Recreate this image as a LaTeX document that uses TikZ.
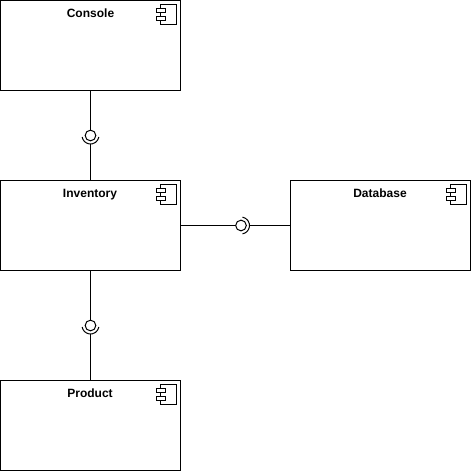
\documentclass[tikz,border=0pt]{standalone}
\usepackage{fontspec}
\setmainfont{Liberation Sans}

\tikzset{
	compbox/.style={draw,line width=0.75pt,minimum width=135pt,minimum height=67.5pt,inner sep=0pt,outer sep=0pt},
	comptext/.style={anchor=base,inner sep=0.75pt,font=\bfseries\fontsize{9pt}{11pt}\selectfont},
	ball/.style={draw,circle,line width=0.75pt,minimum size=8pt,inner sep=0pt,outer sep=0pt},
}

\newcommand{\compicon}[1]{
	\draw [line width=0.75pt] (#1)++(-10.5,-16.5) rectangle ++(16,20);
	\draw [line width=0.75pt,fill=white] (#1)++(-15,-12.5) rectangle ++(9.5,4.5);
	\draw [line width=0.75pt,fill=white] (#1)++(-15,-4.5) rectangle ++(9.5,4.5);
}

\begin{document}
\begin{tikzpicture}[x=0.75pt,y=0.75pt,yscale=-1,xscale=1]
	\useasboundingbox (0,0) rectangle (471,471);
	% components
	\node [compbox] (console) at (90.5,45.5) {};
	\node [compbox] (inventory) at (90.5,225.5) {};
	\node [compbox] (database) at (380.5,225.5) {};
	\node [compbox] (product) at (90.5,425.5) {};
	\node [comptext] (consoleText) at (90.5,17) {Console};
	\node [comptext] (inventoryText) at (90,197) {Inventory};
	\node [comptext] (databaseText) at (380,197) {Database};
	\node [comptext] (productText) at (90,397) {Product};
	% icons
	\coordinate (consoleIcon) at (171,20.5);
	\coordinate (inventoryIcon) at (171,200.5);
	\coordinate (databaseIcon) at (461,200.5);
	\coordinate (productIcon) at (171,400.5);
	\compicon{consoleIcon}
	\compicon{inventoryIcon}
	\compicon{databaseIcon}
	\compicon{productIcon}
	% interfaces
	\node [ball] (ballTop) at (90.5,135.5) {};
	\node [ball] (ballRight) at (241,225.5) {};
	\node [ball] (ballBottom) at (90.5,325.5) {};
	\coordinate (socketTop) at (90.5,144);
	\coordinate (socketRight) at (249.5,225.5);
	\coordinate (socketBottom) at (90.5,334);
	\draw [line width=0.75pt] (ballTop.center)++(10:8.5) arc (10:170:8.5);
	\draw [line width=0.75pt] (ballRight.center)++(-80:8.5) arc (-80:80:8.5);
	\draw [line width=0.75pt] (ballBottom.center)++(10:8.5) arc (10:170:8.5);
	\draw [line width=0.75pt] (console) -- (ballTop);
	\draw [line width=0.75pt] (socketTop) -- (inventory);
	\draw [line width=0.75pt] (inventory) -- (ballRight);
	\draw [line width=0.75pt] (socketRight) -- (database);
	\draw [line width=0.75pt] (inventory) -- (ballBottom);
	\draw [line width=0.75pt] (socketBottom) -- (product);
\end{tikzpicture}
\end{document}
